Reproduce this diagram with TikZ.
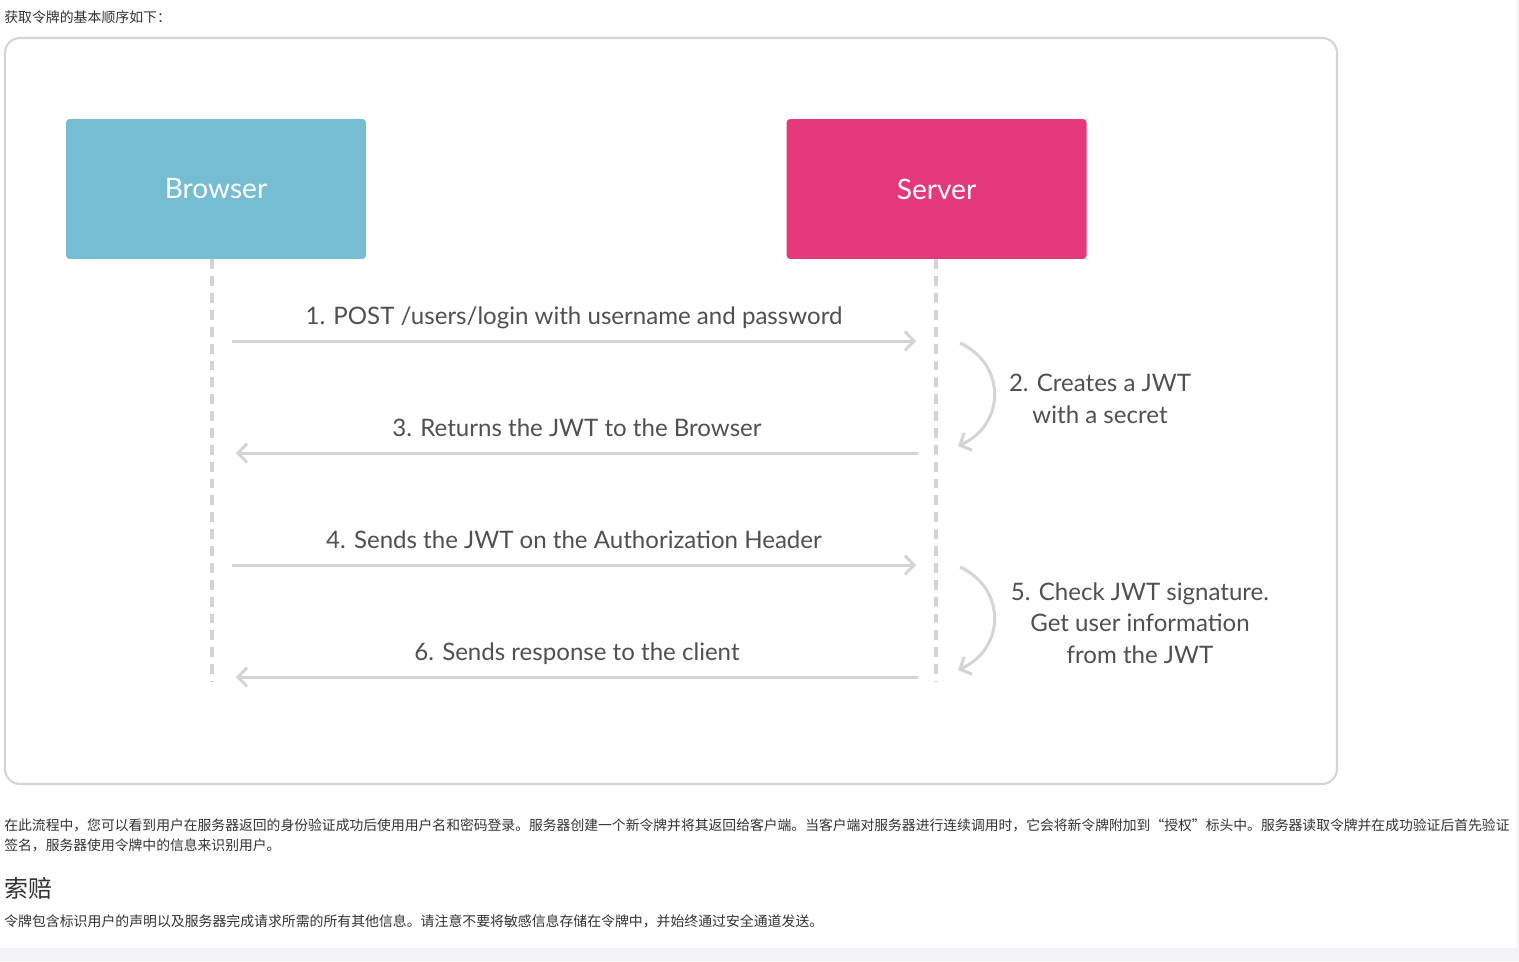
\documentclass[tikz,border=0pt]{standalone}
\usepackage{fontspec}
\setmainfont{Lato}
\newfontfamily\cjk{Noto Sans CJK SC}
\usepackage{tikz}
\usetikzlibrary{arrows.meta,positioning}
\definecolor{browserblue}{HTML}{74BDD3}
\definecolor{serverpink}{HTML}{E5387A}
\definecolor{rulegray}{HTML}{D4D4D4}
\definecolor{labelgray}{HTML}{505050}
\definecolor{pagegray}{HTML}{F2F3F7}
\definecolor{textdark}{HTML}{333333}

\begin{document}
\begin{tikzpicture}[
  x=0.02cm, y=-0.02cm,
  actor/.style={rectangle,rounded corners=2pt,minimum width=6cm,minimum height=2.8cm,
    text=white,font=\fontsize{16}{19}\selectfont},
  lifeline/.style={draw=rulegray,line width=2.2pt,dash pattern=on 5.6pt off 4pt},
  msg/.style={draw=rulegray,line width=1.7pt,-{Straight Barb[length=1.8mm,width=3.8mm]}},
  lbl/.style={text=labelgray,font=\fontsize{13.7}{18}\selectfont,align=center},
  msglbl/.style={lbl,above=3pt,text depth=0.2em},
  note/.style={text=textdark,font=\cjk\fontsize{7.9}{11.3}\selectfont,anchor=west,inner sep=0pt}
]
  \useasboundingbox[fill=white] (0,0) rectangle (1519,961);
  \fill[pagegray] (0,948) rectangle (1519,961);
  \fill[pagegray] (1517,0) rectangle (1519,948);

  % texts of the page
  \node[note] (intro) at (4,17) {获取令牌的基本顺序如下：};
  \node[note,align=left,font=\cjk\fontsize{7.86}{11.3}\selectfont] (para) at (4,835) {在此流程中，您可以看到用户在服务器返回的身份验证成功后使用用户名和密码登录。服务器创建一个新令牌并将其返回给客户端。当客户端对服务器进行连续调用时，它会将新令牌附加到“授权”标头中。服务器读取令牌并在成功验证后首先验证\\签名，服务器使用令牌中的信息来识别用户。};
  \node[note,font=\cjk\fontsize{13.6}{16}\selectfont] (claims) at (4,888) {索赔};
  \node[note] (claimtext) at (4,921) {令牌包含标识用户的声明以及服务器完成请求所需的所有其他信息。请注意不要将敏感信息存储在令牌中，并始终通过安全通道发送。};

  % frame
  \draw[rulegray,line width=1.2pt,rounded corners=0.3cm] (5,38) rectangle (1337,784);

  % actors
  \node[actor,fill=browserblue] (browser) at (216,189) {Browser};
  \node[actor,fill=serverpink,right=8.4cm of browser] (server) {Server};

  \coordinate (bbot) at (212,682);
  \coordinate (sbot) at (936,682);
  \draw[lifeline] (browser.south -| bbot) -- (bbot);
  \draw[lifeline] (server.south -| sbot) -- (sbot);

  % messages
  \coordinate (b1) at (232,341);
  \coordinate (s1) at (916,341);
  \coordinate (s3) at (918,453);
  \coordinate (b3) at (236,453);
  \coordinate (b4) at (232,565);
  \coordinate (s4) at (916,565);
  \coordinate (s6) at (918,677);
  \coordinate (b6) at (236,677);
  \draw[msg] (b1) -- node[msglbl] {1. POST /users/login with username and password} (s1);
  \draw[msg] (s3) -- node[msglbl] {3. Returns the JWT to the Browser} (b3);
  \draw[msg] (b4) -- node[msglbl] {4. Sends the JWT on the Authorization Header} (s4);
  \draw[msg] (s6) -- node[msglbl] {6. Sends response to the client} (b6);

  % server side steps
  \coordinate (c2a) at (960,343);
  \coordinate (c2b) at (958,446);
  \coordinate (c5a) at (960,567);
  \coordinate (c5b) at (958,670);
  \draw[msg] (c2a) .. controls (1007,365) and (1005,425) .. (c2b);
  \draw[msg] (c5a) .. controls (1007,589) and (1005,649) .. (c5b);
  \node[lbl] (create) at (1100,399) {2. Creates a JWT\\with a secret};
  \node[lbl] (check) at (1140,623) {5. Check JWT signature.\\Get user information\\from the JWT};
\end{tikzpicture}
\end{document}
